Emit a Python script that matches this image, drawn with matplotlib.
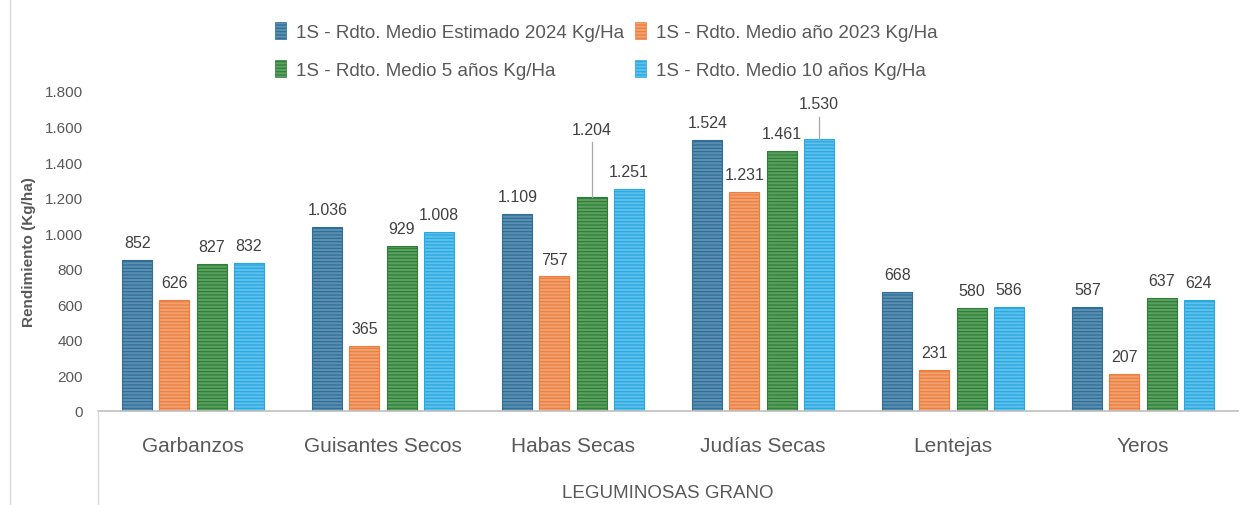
import matplotlib
matplotlib.use("Agg")
import matplotlib.pyplot as plt
import numpy as np
from matplotlib.patches import Patch
from matplotlib.lines import Line2D

categories = ["Garbanzos", "Guisantes Secos", "Habas Secas", "Judías Secas", "Lentejas", "Yeros"]
series_names = [
    "1S - Rdto. Medio Estimado 2024 Kg/Ha",
    "1S - Rdto. Medio año 2023 Kg/Ha",
    "1S - Rdto. Medio 5 años Kg/Ha",
    "1S - Rdto. Medio 10 años Kg/Ha",
]
est_2024 = [852, 1036, 1109, 1524, 668, 587]
year_2023 = [626, 365, 757, 1231, 231, 207]
avg_5y = [827, 929, 1204, 1461, 580, 637]
avg_10y = [832, 1008, 1251, 1530, 586, 624]
yticks = [0, 200, 400, 600, 800, 1000, 1200, 1400, 1600, 1800]
xlabel = "LEGUMINOSAS GRANO"
ylabel = "Rendimiento (Kg/ha)"

face = ["#5b8fb2", "#f2a070", "#5aa160", "#5cc0ec"]
hatchc = ["#2f6e95", "#ec7f3e", "#2f7d38", "#2aa8e0"]

plt.rcParams['font.family'] = ['Liberation Sans', 'DejaVu Sans']
plt.rcParams['hatch.linewidth'] = 0.9

fig = plt.figure(figsize=(12.4, 5.06), dpi=100)
ax = fig.add_axes([98/1240, 1-412/506, 1140/1240, 320/506])

data = [est_2024, year_2023, avg_5y, avg_10y]
x = np.arange(len(categories))
w = 0.158
step = 0.195
offsets = (np.arange(4) - 1.5) * step

def fmt(v):
    return f"{v:,}".replace(",", ".")

for i, vals in enumerate(data):
    xs = x + offsets[i]
    ax.bar(xs, vals, width=w, color=face[i], edgecolor=hatchc[i], hatch='-----', linewidth=0.8)
    for xi, v, cat in zip(xs, vals, categories):
        if (cat == "Habas Secas" and i == 2):
            ax.plot([xi, xi], [v, v + 310], color="#a6a6a6", lw=0.9)
            ax.text(xi, v + 340, fmt(v), ha='center', va='bottom', fontsize=11.5, color='#404040')
        elif (cat == "Judías Secas" and i == 3):
            ax.plot([xi, xi], [v, v + 125], color="#a6a6a6", lw=0.9)
            ax.text(xi, v + 160, fmt(v), ha='center', va='bottom', fontsize=11.5, color='#404040')
        else:
            ax.text(xi, v + 55, fmt(v), ha='center', va='bottom', fontsize=11.5, color='#404040')

ax.set_xlim(-0.5, len(categories) - 0.5)
ax.set_ylim(0, 1800)
ax.set_yticks(yticks)
ax.set_yticklabels([fmt(t) for t in yticks], fontsize=11, color='#595959')
ax.set_xticks(x)
ax.set_xticklabels(categories, fontsize=15, color='#595959')
ax.tick_params(axis='both', length=0)
ax.tick_params(axis='x', pad=18)
ax.tick_params(axis='y', pad=11)
for s in ['top', 'right', 'left']:
    ax.spines[s].set_visible(False)
ax.spines['bottom'].set_color('#bfbfbf')
ax.spines['bottom'].set_linewidth(1.2)

ax.set_ylabel(ylabel, fontsize=11, fontweight='bold', color='#595959')
ax.yaxis.set_label_coords(-62/1140, 0.5)

fig.text(668/1240, 1-494/506, xlabel, ha='center', va='center', fontsize=13.5, color='#595959')

# chart frame lines
fig.add_artist(Line2D([98/1240, 98/1240], [0, 1-412/506], color='#d9d9d9', lw=1, transform=fig.transFigure))
fig.add_artist(Line2D([10/1240, 10/1240], [0, 1], color='#d9d9d9', lw=1, transform=fig.transFigure))

handles = [Patch(facecolor=face[i], edgecolor=hatchc[i], hatch='-----', linewidth=0.5) for i in range(4)]
order = [0, 2, 1, 3]
leg = fig.legend([handles[k] for k in order], [series_names[k] for k in order],
                 loc='upper left', bbox_to_anchor=(258/1240, 1-6/506),
                 ncol=2, frameon=False, fontsize=13.5, handlelength=0.6, handleheight=1.0,
                 handletextpad=0.5, columnspacing=0.6, labelspacing=1.05, labelcolor='#595959')

fig.savefig("out.png", dpi=100)
